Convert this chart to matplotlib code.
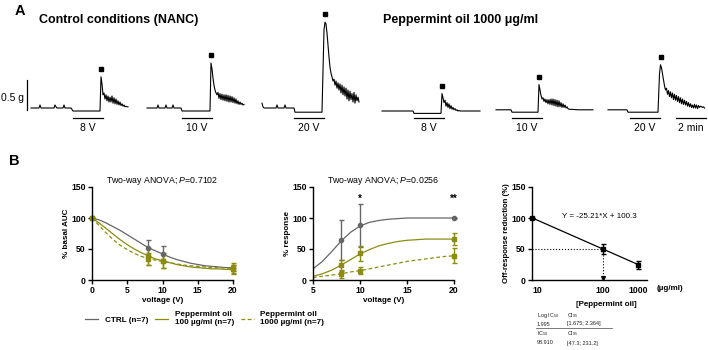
import matplotlib
matplotlib.use("Agg")
import matplotlib.pyplot as plt
from matplotlib.lines import Line2D

plt.rcParams['font.family'] = ['Liberation Sans', 'DejaVu Sans']
plt.rcParams['mathtext.fontset'] = 'custom'
plt.rcParams['mathtext.rm'] = 'Liberation Sans'
plt.rcParams['mathtext.it'] = 'Liberation Sans:italic'
plt.rcParams['mathtext.bf'] = 'Liberation Sans:bold'

GRAY = '#666666'
OLIVE = '#8c8c10'

# ---------------- Panel A: isometric tension traces (time in s, tension in g) ----------------
trace_names = ['8 V', '10 V', '20 V', '8 V', '10 V', '20 V']
stim_start = [168, 140, 128, 128, 64, 88]        # s from trace start, 2 min stimulation
stim_len = 120

# key points before/at the off-response peak
c8_t = [0, 32, 36, 40, 92, 96, 100, 104, 128, 132, 136, 160, 168, 276, 280]
c8_g = [0, 0, 0.05, 0, 0, 0.05, 0.02, 0, 0, 0.05, 0, 0, -0.05, -0.05, 0.52]
c10_t = [0, 40, 44, 48, 72, 76, 80, 100, 104, 108, 136, 140, 252, 256]
c10_g = [0, 0, 0.05, 0, 0, 0.05, 0, 0, 0.05, 0, 0, -0.05, -0.05, 0.75]
c20_t = [0, 4, 8, 56, 60, 64, 88, 92, 96, 128, 132, 240, 248, 252]
c20_g = [0.08, 0.02, 0, 0, 0.05, 0, 0, 0.05, 0, 0, -0.07, -0.07, 1.3, 1.43]
p8_t = [0, 124, 128, 236, 240]
p8_g = [0, 0, -0.04, -0.04, 0.29]
p10_t = [0, 60, 64, 168, 172]
p10_g = [0, 0, -0.04, -0.04, 0.42]
p20_t = [0, 76, 80, 200, 206, 210]
p20_g = [0, 0, -0.04, -0.04, 0.6, 0.75]

# off-response tails, sampled every 4 s after the peak
c8_tail = [0.40, 0.22, 0.25, 0.15, 0.22, 0.12, 0.20, 0.10, 0.18, 0.10, 0.20, 0.08, 0.17, 0.07,
           0.15, 0.06, 0.12, 0.05, 0.10, 0.04, 0.07, 0.03, 0.05, 0.02, 0.03, 0.02, 0.02]
c10_tail = [0.65, 0.50, 0.38, 0.30, 0.25, 0.22, 0.26, 0.16, 0.24, 0.14, 0.23, 0.13, 0.22, 0.12,
            0.22, 0.11, 0.21, 0.10, 0.20, 0.10, 0.19, 0.09, 0.17, 0.08, 0.15, 0.07, 0.12, 0.06,
            0.10, 0.06, 0.08, 0.05, 0.06]
c20_tail = [1.40, 1.25, 1.05, 0.85, 0.68, 0.58, 0.52, 0.45, 0.48, 0.38, 0.45, 0.33, 0.42, 0.30,
            0.40, 0.25, 0.38, 0.22, 0.35, 0.20, 0.33, 0.15, 0.30, 0.12, 0.28, 0.14, 0.24, 0.10,
            0.26, 0.08, 0.22, 0.12, 0.18, 0.10]
p8_tail = [0.22, 0.14, 0.18, 0.08, 0.14, 0.06, 0.12, 0.04, 0.09, 0.03, 0.06, 0.02, 0.04, 0.01,
           0.02, 0.0, 0.01]
p10_tail = [0.33, 0.24, 0.18, 0.20, 0.14, 0.18, 0.12, 0.17, 0.10, 0.17, 0.09, 0.18, 0.08, 0.18,
            0.07, 0.17, 0.06, 0.16, 0.05, 0.15, 0.05, 0.12, 0.04, 0.10, 0.04, 0.08, 0.03, 0.05,
            0.02, 0.01]
p20_tail = [0.70, 0.60, 0.50, 0.40, 0.33, 0.36, 0.26, 0.32, 0.22, 0.30, 0.20, 0.28, 0.17, 0.26,
            0.16, 0.24, 0.14, 0.22, 0.12, 0.20, 0.10, 0.18, 0.09, 0.16, 0.08, 0.14, 0.06, 0.12,
            0.05, 0.10, 0.04, 0.08, 0.03, 0.09, 0.03, 0.08, 0.02, 0.07, 0.04, 0.06, 0.05, 0.04,
            0.05, 0.03]
# flat recovery after the tail (only for peppermint oil traces)
p8_end_t, p8_end_g = [312, 392], [0, 0]
p10_end_t, p10_end_g = [330, 388], [0, 0]

traces = [
    (c8_t, c8_g, c8_tail, [], []),
    (c10_t, c10_g, c10_tail, [], []),
    (c20_t, c20_g, c20_tail, [], []),
    (p8_t, p8_g, p8_tail, p8_end_t, p8_end_g),
    (p10_t, p10_g, p10_tail, p10_end_t, p10_end_g),
    (p20_t, p20_g, p20_tail, [], []),
]
trace_x0 = [124, 588, 1048, 1528, 1984, 2432]
trace_y0 = [0, 0, 0, -0.05, -0.03, -0.03]

fig = plt.figure(figsize=(7.08, 3.5), dpi=100)

axA = fig.add_axes([0, 1 - 135 / 350, 1, 135 / 350])
axA.set_xlim(0, 2832)
axA.set_ylim(-0.45, 1.8)
axA.axis('off')

for (kt, kg, tail, et, eg), name, s0, x0, y0 in zip(traces, trace_names, stim_start,
                                                    trace_x0, trace_y0):
    t = list(kt) + [kt[-1] + 4 * (i + 1) for i in range(len(tail))] + list(et)
    g = list(kg) + list(tail) + list(eg)
    xs = [x0 + v for v in t]
    ys = [y0 + v for v in g]
    axA.plot(xs, ys, color='black', lw=0.8)
    ipk = ys.index(max(ys))
    axA.plot(xs[ipk], ys[ipk] + 0.13, 's', color='black', ms=2.8)
    axA.plot([x0 + s0, x0 + s0 + stim_len], [-0.17, -0.17], color='black', lw=0.9)
    axA.text(x0 + s0 + stim_len / 2, -0.33, name, ha='center', va='center', fontsize=7.5)

# scale bars: 0.5 g and 2 min
axA.plot([108, 108], [-0.03, 0.47], color='black', lw=0.9)
axA.text(96, 0.17, '0.5 g', ha='right', va='center', fontsize=7.5)
axA.plot([2704, 2824], [-0.17, -0.17], color='black', lw=0.9)
axA.text(2764, -0.33, '2 min', ha='center', va='center', fontsize=7.5)

fig.text(15 / 708, 1 - 11 / 350, 'A', fontsize=10.5, fontweight='bold', ha='left', va='center')
fig.text(39 / 708, 1 - 20 / 350, 'Control conditions (NANC)', fontsize=9, fontweight='bold',
         ha='left', va='center')
fig.text(383 / 708, 1 - 20 / 350, 'Peppermint oil 1000 \u03bcg/ml', fontsize=9,
         fontweight='bold', ha='left', va='center')
fig.text(9 / 708, 1 - 161 / 350, 'B', fontsize=10.5, fontweight='bold', ha='left', va='center')

# ---------------- Panel B data ----------------
volt = [0, 8, 10, 20]
auc_ctrl = [100, 52, 42, 20]
auc_ctrl_err = [0, 13, 13, 5]
auc_po100 = [100, 38, 31, 17]
auc_po100_err = [0, 13, 12, 7]
auc_po1000 = [100, 34, 30, 19]
auc_po1000_err = [0, 10, 11, 8]

fit_v1 = list(range(0, 21))
auc_fit_ctrl = [100, 97, 92, 86, 80, 73, 66, 59, 52, 47, 42, 37, 33, 30, 27, 25, 23, 22, 21, 20, 20]
auc_fit_po100 = [100, 92, 83, 74, 65, 57, 50, 44, 39, 34, 31, 28, 25, 23, 21, 20, 19, 18, 18, 17, 17]
auc_fit_po1000 = [100, 88, 76, 65, 56, 49, 43, 38, 35, 32, 30, 28, 26, 24, 23, 22, 21, 20, 20, 19, 19]

volt2 = [8, 10, 20]
resp_ctrl = [65, 88, 100]
resp_ctrl_err = [32, 35, 0]
resp_po100 = [24, 43, 66]
resp_po100_err = [9, 12, 10]
resp_po1000 = [10, 15, 39]
resp_po1000_err = [6, 6, 12]

fit_v2 = list(range(5, 21))
resp_fit_ctrl = [18, 30, 46, 63, 77, 87, 93, 96, 98, 99, 100, 100, 100, 100, 100, 100]
resp_fit_po100 = [6, 10, 16, 24, 33, 42, 49, 55, 59, 62, 64, 65, 66, 66, 66, 66]
resp_fit_po1000 = [4, 6, 8, 10, 13, 15, 18, 21, 24, 27, 30, 32, 34, 36, 38, 39]

log_dose = [0, 2, 3]
dose_labels = ['10', '100', '1000']
off_red = [100, 50, 24]
off_red_err = [0, 8, 7]
fit_slope, fit_intercept = -25.21, 100.3
log_ic50 = 1.995


def prism(ax):
    ax.spines[['top', 'right']].set_visible(False)
    ax.spines[['left', 'bottom']].set_linewidth(1.0)
    ax.tick_params(length=3, width=1.0, labelsize=6.2, pad=1.5)
    ax.set_ylim(0, 150)
    ax.set_yticks([0, 50, 100, 150])
    for lab in ax.get_xticklabels() + ax.get_yticklabels():
        lab.set_fontweight('bold')


def draw_group(ax, x, y, err, fx, fy, color, marker, ls):
    ax.plot(fx, fy, color=color, lw=0.9, ls=ls)
    ax.errorbar(x, y, yerr=err, fmt=marker, color=color, ms=3, lw=1.0, capsize=1.8,
                capthick=1.0, clip_on=False)


axB1 = fig.add_axes([92 / 708, 1 - 280 / 350, 141 / 708, 93 / 350])
draw_group(axB1, volt, auc_ctrl, auc_ctrl_err, fit_v1, auc_fit_ctrl, GRAY, 'o', '-')
draw_group(axB1, volt, auc_po100, auc_po100_err, fit_v1, auc_fit_po100, OLIVE, 's', '-')
draw_group(axB1, volt, auc_po1000, auc_po1000_err, fit_v1, auc_fit_po1000, OLIVE, 's', (0, (3, 2)))
axB1.set_xlim(0, 20)
axB1.set_xticks([0, 5, 10, 15, 20])
prism(axB1)
axB1.set_ylabel('% basal AUC', fontsize=5.8, fontweight='bold', labelpad=1)
axB1.set_xlabel('voltage (V)', fontsize=5.8, fontweight='bold', labelpad=1)
axB1.set_title('Two-way ANOVA; $\\mathit{P}$=0.7102', fontsize=6.3, pad=0.5)

axB2 = fig.add_axes([313 / 708, 1 - 280 / 350, 141 / 708, 93 / 350])
draw_group(axB2, volt2, resp_ctrl, resp_ctrl_err, fit_v2, resp_fit_ctrl, GRAY, 'o', '-')
draw_group(axB2, volt2, resp_po100, resp_po100_err, fit_v2, resp_fit_po100, OLIVE, 's', '-')
draw_group(axB2, volt2, resp_po1000, resp_po1000_err, fit_v2, resp_fit_po1000, OLIVE, 's', (0, (3, 2)))
axB2.set_xlim(5, 20)
axB2.set_xticks([5, 10, 15, 20])
prism(axB2)
axB2.set_ylabel('% response', fontsize=5.8, fontweight='bold', labelpad=1)
axB2.set_xlabel('voltage (V)', fontsize=5.8, fontweight='bold', labelpad=1)
axB2.set_title('Two-way ANOVA; $\\mathit{P}$=0.0256', fontsize=6.3, pad=0.5)
axB2.text(10, 131, '*', ha='center', va='center', fontsize=7, fontweight='bold')
axB2.text(20, 131, '**', ha='center', va='center', fontsize=7, fontweight='bold')

axB3 = fig.add_axes([532 / 708, 1 - 280 / 350, 115 / 708, 93 / 350])
fit_x = [log_dose[0], log_dose[-1]]
fit_y = [fit_intercept + fit_slope * v for v in fit_x]
axB3.plot(fit_x, fit_y, color='black', lw=0.9)
axB3.errorbar(log_dose, off_red, yerr=off_red_err, fmt='s', color='black', ms=3.2, lw=1.0,
              capsize=1.8, capthick=1.0, clip_on=False)
axB3.plot([0, log_ic50], [50, 50], color='black', lw=0.8, ls=':')
axB3.plot([log_ic50, log_ic50], [50, 5], color='black', lw=0.8, ls=':')
axB3.plot([log_ic50], [4], 'v', color='black', ms=2.8)
axB3.set_xlim(0, 3.24)
axB3.set_xticks(log_dose)
axB3.set_xticklabels(dose_labels)
prism(axB3)
axB3.tick_params(axis='x', length=0, pad=4)
axB3.get_xticklabels()[0].set_horizontalalignment('left')
axB3.set_ylabel('Off-response reduction (%)', fontsize=5.6, fontweight='bold', labelpad=1)
axB3.set_xlabel('[Peppermint oil]', fontsize=5.8, fontweight='bold')
axB3.xaxis.set_label_coords(0.643, -0.23)
axB3.text(1.9, 102, 'Y = -25.21*X + 100.3', ha='center', va='center', fontsize=5.8)
fig.text(670 / 708, 1 - 288 / 350, '(\u00b5g/ml)', ha='center', va='center', fontsize=5.8,
         fontweight='bold')

# IC50 table
tab_kw = dict(fontsize=4, ha='left', va='center', color='#222222')
fig.text(537 / 708, 1 - 316 / 350, 'Log IC$_{50}$', **tab_kw)
fig.text(567 / 708, 1 - 316 / 350, 'CI$_{95}$', **tab_kw)
fig.text(537 / 708, 1 - 324 / 350, '1.995', **tab_kw)
fig.text(567 / 708, 1 - 324 / 350, '[1.675; 2.364]', **tab_kw)
fig.add_artist(Line2D([536 / 708, 612 / 708], [1 - 328 / 350, 1 - 328 / 350],
                      color='#444444', lw=0.5))
fig.text(537 / 708, 1 - 334 / 350, 'IC$_{50}$', **tab_kw)
fig.text(567 / 708, 1 - 334 / 350, 'CI$_{95}$', **tab_kw)
fig.text(537 / 708, 1 - 343 / 350, '98.910', **tab_kw)
fig.text(567 / 708, 1 - 343 / 350, '[47.3; 231.2]', **tab_kw)

# legend
handles = [Line2D([], [], color=GRAY, lw=0.9),
           Line2D([], [], color=OLIVE, lw=0.9),
           Line2D([], [], color=OLIVE, lw=0.9, ls=(0, (3, 2)))]
labels = ['CTRL (n=7)', 'Peppermint oil\n100 \u00b5g/ml (n=7)', 'Peppermint oil\n1000 \u00b5g/ml (n=7)']
fig.legend(handles, labels, loc='center left', bbox_to_anchor=(78 / 708, 1 - 319 / 350),
           ncol=3, frameon=False, prop={'size': 5.9, 'weight': 'bold'}, handlelength=1.6,
           columnspacing=0.8, handletextpad=0.8)

fig.savefig('out.png', dpi=100)
